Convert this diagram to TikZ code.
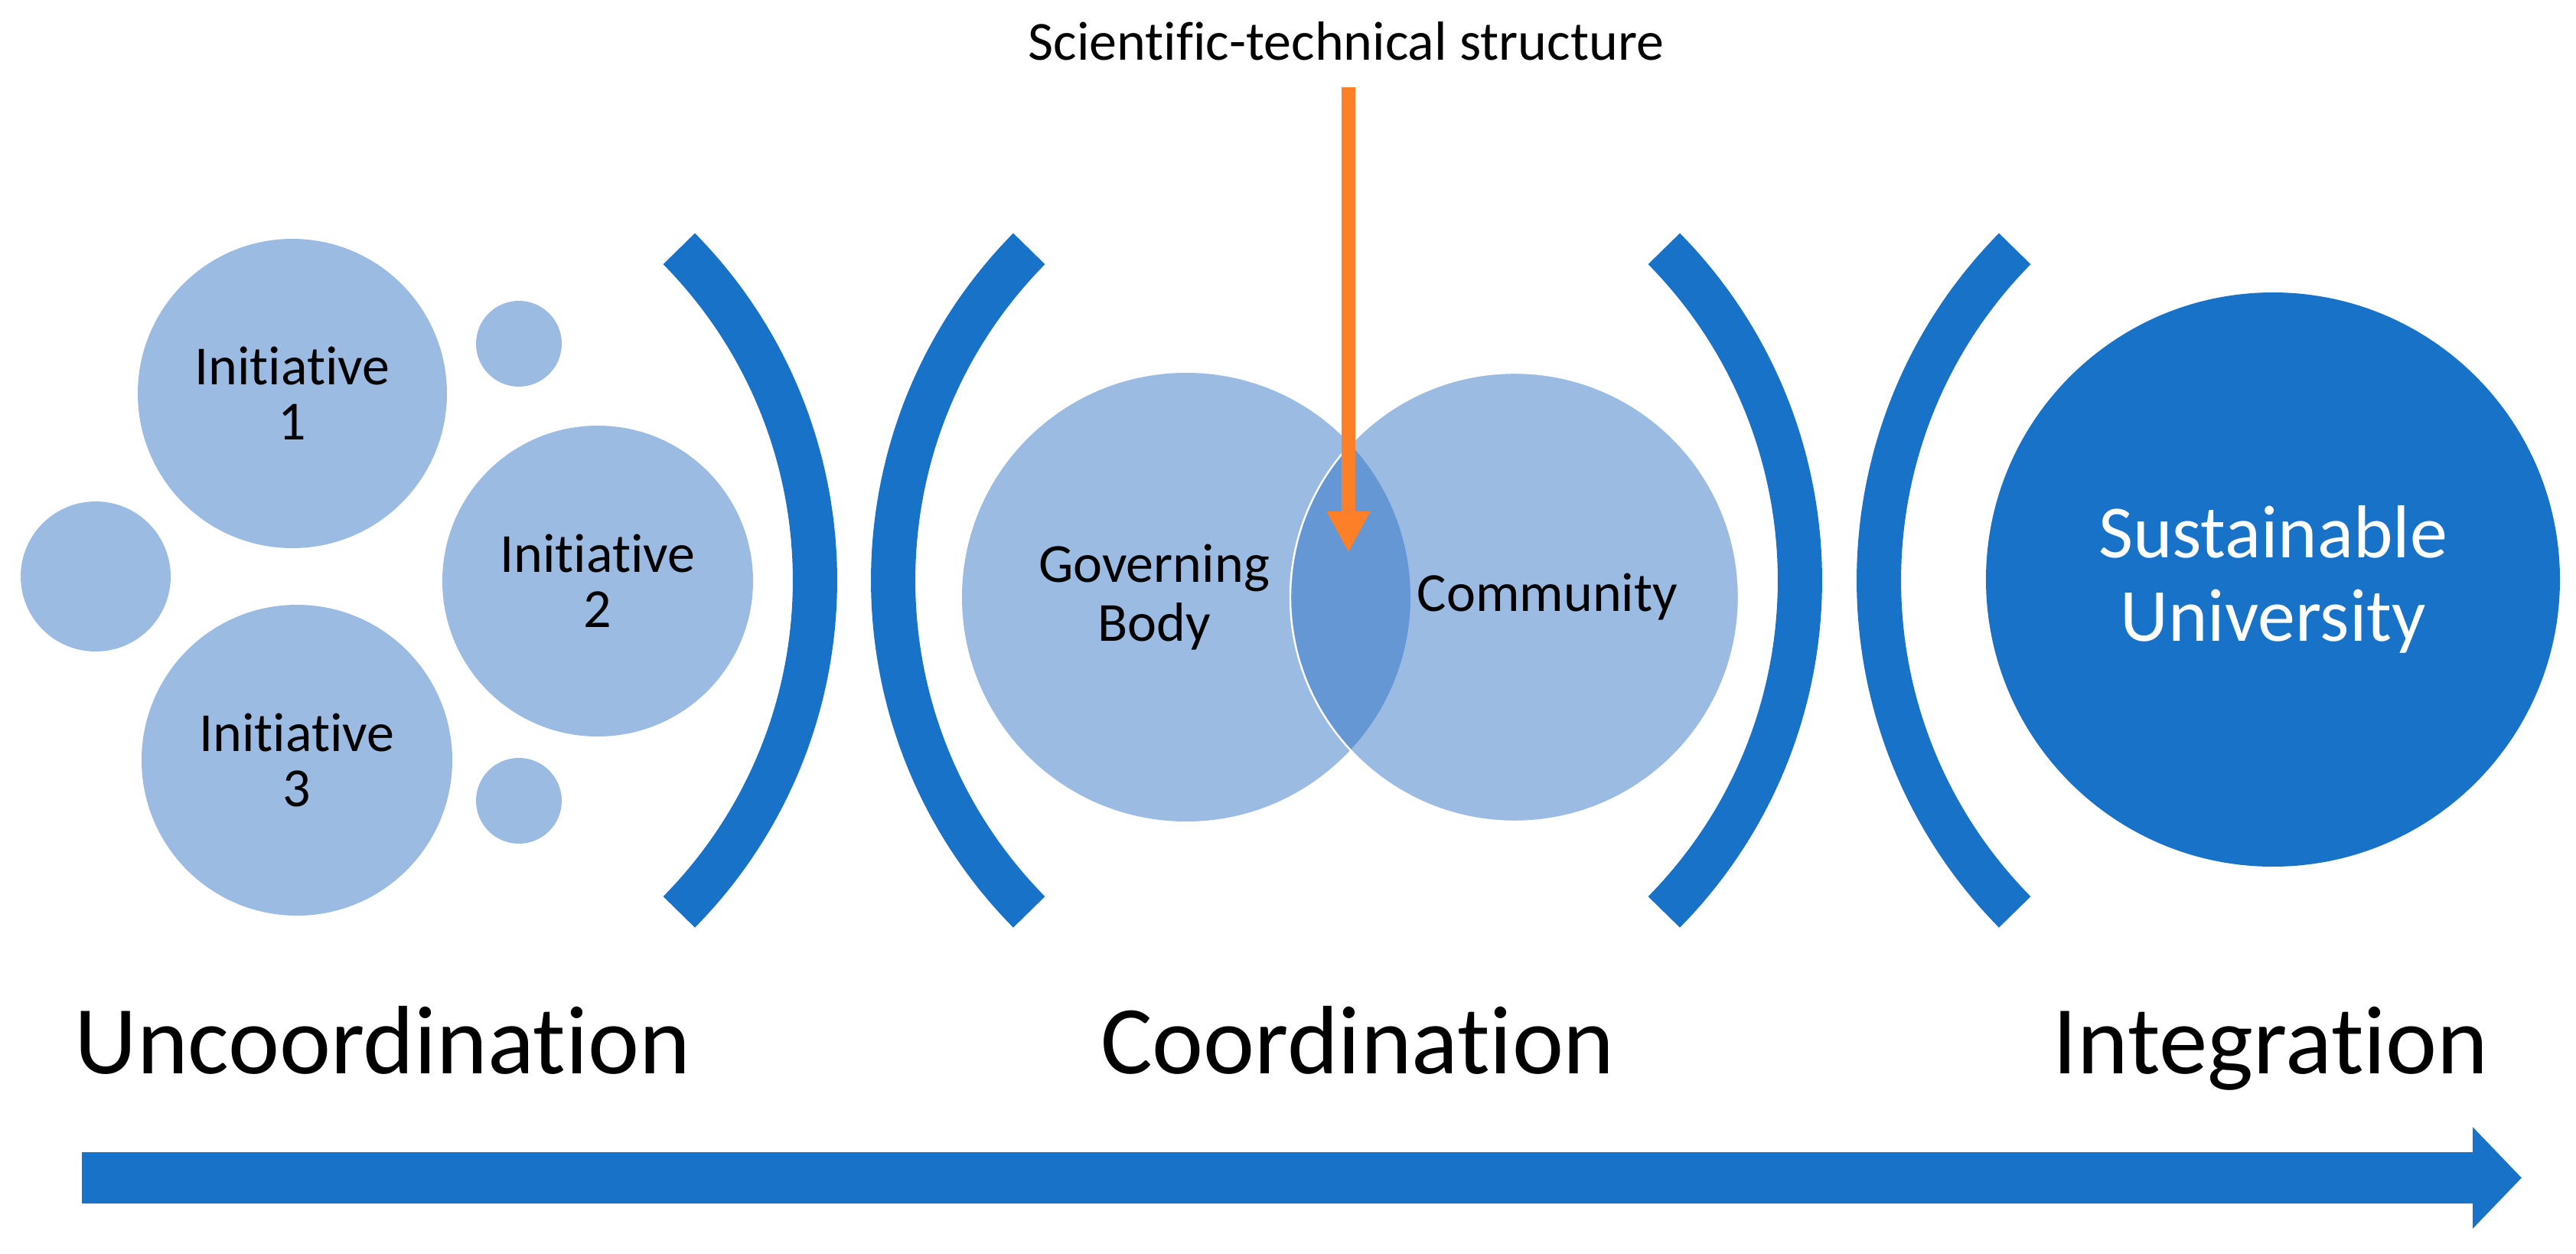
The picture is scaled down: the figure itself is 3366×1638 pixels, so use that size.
\documentclass[tikz,border=0pt]{standalone}
\usepackage{fontspec}
\setmainfont{Carlito}[Ligatures={NoCommon,TeX}]
\usetikzlibrary{arrows.meta}
\definecolor{lightblue}{RGB}{155,187,227}
\definecolor{darkblue}{RGB}{24,115,200}
\definecolor{lensblue}{RGB}{101,151,213}
\definecolor{orangeline}{RGB}{253,127,39}
\begin{document}
\begin{tikzpicture}[x=0.25pt,y=-0.25pt,
  bubble/.style={circle, fill=lightblue, inner sep=0pt, align=center, font=\fontsize{18}{18}\selectfont},
  band/.style={draw=darkblue, line width=14.5pt},
  stage/.style={font=\fontsize{31.75}{36}\selectfont, anchor=base, inner sep=0pt},
  small/.style={font=\fontsize{18}{19.25}\selectfont, align=center, inner sep=0pt}]
\useasboundingbox (0,0) rectangle (3366,1638);
% uncoordination
\node[bubble, minimum size=101pt] (i1) at (382,514) {Initiative\\1};
\node[bubble, minimum size=101.5pt] (i2) at (781,759) {Initiative\\2};
\node[bubble, minimum size=101.5pt] (i3) at (388,993) {Initiative\\3};
\node[bubble, minimum size=49pt] (s1) at (125,753) {};
\node[bubble, minimum size=28pt] (s2) at (678,449) {};
\node[bubble, minimum size=28pt] (s3) at (678,1046) {};
% brackets
\draw[band] (887.3,1191.3) arc[start angle=-44.6,end angle=44.6,radius=154.25pt];
\draw[band] (1344.7,1191.3) arc[start angle=224.6,end angle=135.4,radius=154.25pt];
\draw[band] (2174.3,1191.3) arc[start angle=-44.6,end angle=44.6,radius=154.25pt];
\draw[band] (2632.7,1191.3) arc[start angle=224.6,end angle=135.4,radius=154.25pt];
% coordination
\node[circle, fill=lightblue, minimum size=146.5pt, inner sep=0pt] (gb) at (1550,780) {};
\node[circle, fill=lightblue, minimum size=146.5pt, inner sep=0pt] (cm) at (1979,780) {};
\begin{scope}
\clip (gb.center) circle[radius=73.25pt];
\fill[lensblue] (cm.center) circle[radius=73.25pt];
\end{scope}
\draw[white, line width=0.6pt] (cm.center) circle[radius=73.25pt];
\node[small] (gbt) at (1508,780) {Governing\\Body};
\node[small] (cmt) at (2022,780) {Community};
% integration
\node[circle, fill=darkblue, minimum size=187.5pt, inner sep=0pt, text=white, align=center,
  font=\fontsize{24.5}{27.25}\selectfont] (su) at (2970,757) {Sustainable\\University};
% scientific-technical structure
\node[font=\fontsize{18}{20}\selectfont, anchor=base, inner xsep=0pt, inner ysep=8.5pt] (sci) at (1759,79) {Scientific-technical structure};
\coordinate (stip) at (1762,722);
\draw[orangeline, line width=4.5pt, -{Triangle[width=13.25pt,length=13.5pt]}] (sci.south -| stip) -- (stip);
% stage labels
\node[stage] (u) at (500,1402) {Uncoordination};
\node[stage] (c) at (1774,1402) {Coordination};
\node[stage] (g) at (2967,1402) {Integration};
% big arrow
\coordinate (ba) at (107,1538.5);
\coordinate (bb) at (3295,1538.5);
\draw[darkblue, line width=16.75pt, -{Triangle[width=32.25pt,length=16pt]}] (ba) -- (bb);
\end{tikzpicture}
\end{document}
